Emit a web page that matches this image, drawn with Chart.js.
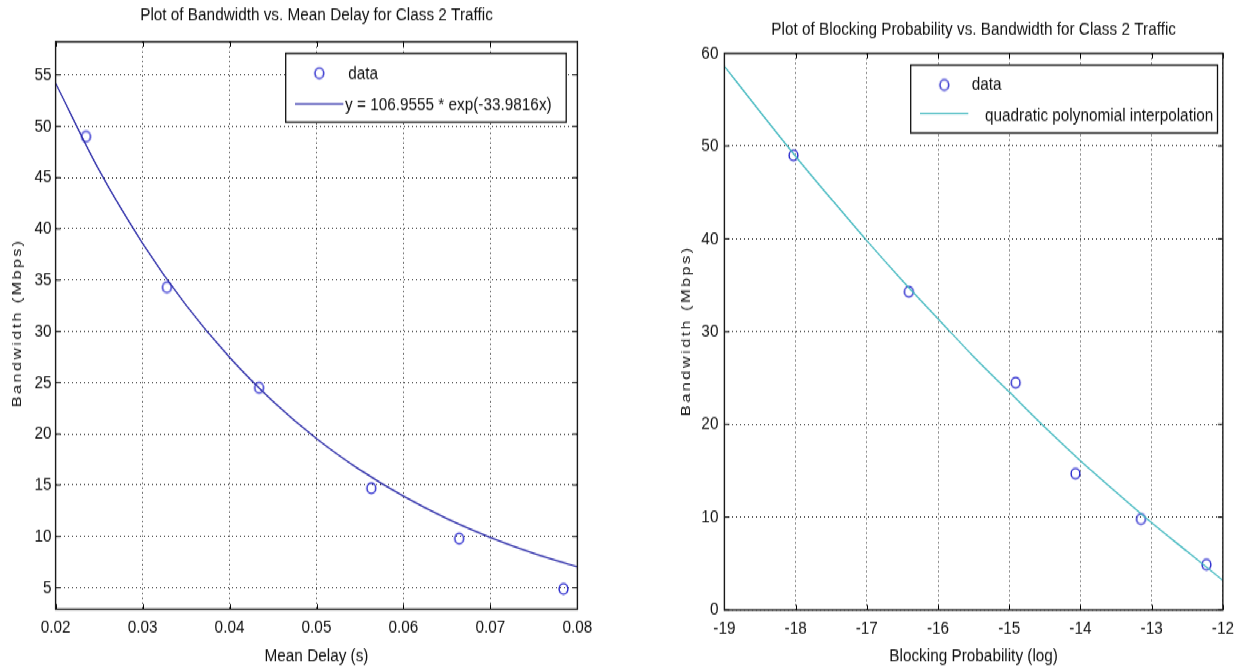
<!DOCTYPE html>
<html>
<head>
<meta charset="utf-8">
<title>Class 2 Traffic: Bandwidth plots</title>
<script src="https://cdn.jsdelivr.net/npm/chart.js@4.4.1/dist/chart.umd.min.js"></script>
<style>
  html, body { margin: 0; padding: 0; background: #fff; }
  #wrap { position: relative; width: 1240px; height: 671px; overflow: hidden; background: #fff; }
  /* the figure is laid out on a 560px-high stage and stretched to 671px */
  #stage { position: absolute; left: 0; top: 0; width: 1240px; height: 560px;
           transform: scaleY(1.198214); transform-origin: 0 0; }
  canvas { position: absolute; top: 0; }
  #delayChart { left: 0; }
  #blockChart { left: 620px; }
</style>
</head>
<body>
<div id="wrap">
  <div id="stage">
    <canvas id="delayChart" width="620" height="560"></canvas>
    <canvas id="blockChart" width="620" height="560"></canvas>
  </div>
</div>
<script>
// ---- measured samples for class 2 traffic ----
const bandwidthMbps = [49, 34.3, 24.5, 14.7, 9.8, 4.9];
const meanDelaySec = [0.0235, 0.0328, 0.0434, 0.0563, 0.0664, 0.0784];
const blockingLog = [-18.03, -16.41, -14.91, -14.07, -13.15, -12.23];

// exponential fit, sampled along the delay axis
const fitDelay = [0.020, 0.025, 0.030, 0.035, 0.040, 0.045, 0.050, 0.055, 0.060, 0.065, 0.070, 0.075, 0.080];
const fitBandwidth = [54.20, 45.73, 38.59, 32.56, 27.47, 23.18, 19.55, 16.50, 13.92, 11.74, 9.91, 8.36, 7.05];

// quadratic curve, sampled along the log blocking probability axis
const quadLog = [-19, -18.5, -18, -17.5, -17, -16.5, -16, -15.5, -15, -14.5, -14, -13.5, -13, -12.5, -12];
const quadBandwidth = [58.6, 53.7, 48.9, 44.3, 39.8, 35.5, 31.4, 27.3, 23.5, 19.7, 16.1, 12.7, 9.4, 6.3, 3.2];

// ---- tick values and labels ----
const delayTicks = [0.02, 0.03, 0.04, 0.05, 0.06, 0.07, 0.08];
const delayTickLabels = ['0.02', '0.03', '0.04', '0.05', '0.06', '0.07', '0.08'];
const bwTicksLeft = [5, 10, 15, 20, 25, 30, 35, 40, 45, 50, 55];
const blockTicks = [-19, -18, -17, -16, -15, -14, -13, -12];
const bwTicksRight = [0, 10, 20, 30, 40, 50, 60];

// vertical stretch of the stage: layout numbers below are in page pixels
const K = 671 / 560;
const H = 560;
const v = y => y / K;

// ---- fonts: a condensed sans if present, sized to the title width ----
function textWidth(font, s) {
  const g = document.createElement('canvas').getContext('2d');
  g.font = font;
  return g.measureText(s).width;
}
const probe = 'Plot of Bandwidth vs. Mean Delay for Class 2 Traffic';
const family = "'Liberation Sans', Arial, Helvetica, sans-serif";
const textSize = 100 * 353 / textWidth('100px ' + family, probe);
const lineH = textSize * 1.2;
const baseFont = { family: family, size: textSize, weight: 'normal', lineHeight: 1.2 };
const ink = '#111';

// open circle marker
function ringImage(r, color, lw) {
  const c = document.createElement('canvas');
  const w = Math.ceil(2 * r + lw + 2);
  c.width = w; c.height = w;
  const g = c.getContext('2d');
  g.strokeStyle = color; g.lineWidth = lw;
  g.beginPath(); g.arc(w / 2, w / 2, r, 0, Math.PI * 2); g.stroke();
  return c;
}
const ring = ringImage(4.4, '#2323cc', 1.4);

function pts(xs, ys) { return xs.map((x, i) => ({ x: x, y: ys[i] })); }

// box frame, inward tick marks, legend box and spaced y-axis title
const matlabAxes = {
  id: 'matlabAxes',
  afterDraw(chart, args, o) {
    const ctx = chart.ctx;
    const { left, top, right, bottom } = chart.chartArea;
    const sx = chart.scales.x, sy = chart.scales.y;
    ctx.save();
    ctx.strokeStyle = '#000';
    ctx.lineWidth = 1;
    ctx.beginPath();
    sx.ticks.forEach(t => {
      const p = Math.round(sx.getPixelForValue(t.value)) + 0.5;
      ctx.moveTo(p, bottom); ctx.lineTo(p, bottom - v(5));
      ctx.moveTo(p, top); ctx.lineTo(p, top + v(5));
    });
    sy.ticks.forEach(t => {
      const p = sy.getPixelForValue(t.value);
      ctx.moveTo(left, p); ctx.lineTo(left + 5, p);
      ctx.moveTo(right, p); ctx.lineTo(right - 5, p);
    });
    ctx.stroke();

    // legend
    const b = o.box;
    ctx.fillStyle = '#fff';
    ctx.fillRect(b.x, v(b.y), b.w, v(b.h));
    ctx.lineWidth = 1.3;
    ctx.strokeStyle = '#111';
    ctx.strokeRect(b.x, v(b.y), b.w, v(b.h));
    chart.data.datasets.forEach((ds, i) => {
      const row = o.rows[i];
      if (ds.showLine) {
        ctx.strokeStyle = ds.borderColor;
        ctx.lineWidth = ds.borderWidth;
        ctx.beginPath();
        ctx.moveTo(b.x + 9.3, v(row.y)); ctx.lineTo(b.x + 57.6, v(row.y));
        ctx.stroke();
      } else {
        const img = ds.pointStyle;
        ctx.drawImage(img, b.x + 33.6 - img.width / 2, v(row.y) - img.height / 2);
      }
      ctx.fillStyle = ink;
      ctx.font = textSize + 'px ' + family;
      ctx.textAlign = 'left';
      ctx.textBaseline = 'middle';
      ctx.fillText(ds.label, b.x + row.textX, v(row.ty));
    });

    // y-axis title
    const yt = o.yTitle;
    ctx.translate(yt.x, v(yt.y));
    ctx.rotate(-Math.PI / 2);
    ctx.font = "13.5px 'Liberation Sans', Arial, sans-serif";
    const n = yt.text.length;
    const len = v(yt.len);
    const base = ctx.measureText(yt.text).width;
    ctx.letterSpacing = Math.max(0, (len - base) / (n - 1)) + 'px';
    ctx.fillStyle = ink;
    ctx.textAlign = 'left';
    ctx.textBaseline = 'middle';
    ctx.fillText(yt.text, -len / 2, 0);
    ctx.restore();

    // axes box
    ctx.save();
    ctx.strokeStyle = '#1a1a1a';
    ctx.lineWidth = 1.4;
    ctx.strokeRect(left, top, right - left, bottom - top);
    ctx.restore();
  }
};

function axis(opts) {
  return {
    type: 'linear',
    position: opts.position,
    min: opts.min,
    max: opts.max,
    afterBuildTicks: s => { s.ticks = opts.ticks.map(t => ({ value: t })); },
    afterFit: opts.fit,
    grid: { color: 'rgba(0,0,0,0.85)', lineWidth: 1, drawTicks: false },
    border: { display: false, dash: [1, 3] },
    ticks: {
      padding: opts.pad,
      color: ink,
      font: baseFont,
      autoSkip: false,
      maxRotation: 0,
      callback: (val, i) => opts.labels[i]
    },
    title: opts.title
      ? { display: true, text: opts.title, color: ink, font: baseFont,
          padding: { top: 0, bottom: H - v(656) - lineH / 2 } }
      : { display: false }
  };
}

function titleOpts(text, centerY, areaTop) {
  const pt = v(centerY) - lineH / 2;
  return {
    display: true, text: text, color: ink, font: baseFont, fullSize: false,
    padding: { top: pt, bottom: v(areaTop) - pt - lineH }
  };
}

// ---- bandwidth vs mean delay ----
new Chart(document.getElementById('delayChart'), {
  type: 'scatter',
  data: {
    datasets: [
      { label: 'data', data: pts(meanDelaySec, bandwidthMbps), showLine: false,
        pointStyle: ring, pointRadius: 5, borderColor: '#2323cc', order: 1 },
      { label: 'y = 106.9555 * exp(-33.9816x)', data: pts(fitDelay, fitBandwidth), showLine: true,
        pointRadius: 0, borderColor: '#2b2ba8', borderWidth: 1.3, cubicInterpolationMode: 'monotone', fill: false, order: 0 }
    ]
  },
  options: {
    responsive: false, animation: false, events: [],
    layout: { padding: { left: 0, right: 620 - 577.4, top: 0, bottom: 0 } },
    scales: {
      x: axis({ position: 'bottom', min: 0.02, max: 0.08, ticks: delayTicks, labels: delayTickLabels,
        pad: v(627.6 - 609.3) - lineH / 2, title: 'Mean Delay (s)', fit: s => { s.height = v(671 - 609.3); } }),
      y: axis({ position: 'left', min: 2.9, max: 58.25, ticks: bwTicksLeft, labels: bwTicksLeft.map(String),
        pad: 4, fit: s => { s.width = 55.6; } })
    },
    plugins: {
      legend: { display: false },
      tooltip: { enabled: false },
      title: titleOpts('Plot of Bandwidth vs. Mean Delay for Class 2 Traffic', 15, 41.7),
      matlabAxes: {
        box: { x: 285.7, y: 53.3, w: 280.5, h: 69 },
        rows: [{ y: 73.3, ty: 74, textX: 62.6 }, { y: 104, ty: 105, textX: 59.3 }],
        yTitle: { text: 'Bandwidth (Mbps)', x: 17.3, y: 324, len: 166 }
      }
    }
  },
  plugins: [matlabAxes]
});

// ---- bandwidth vs blocking probability ----
new Chart(document.getElementById('blockChart'), {
  type: 'scatter',
  data: {
    datasets: [
      { label: 'data', data: pts(blockingLog, bandwidthMbps), showLine: false,
        pointStyle: ring, pointRadius: 5, borderColor: '#2323cc', order: 1 },
      { label: 'quadratic polynomial interpolation', data: pts(quadLog, quadBandwidth), showLine: true,
        pointRadius: 0, borderColor: '#45b9c0', borderWidth: 1.3, cubicInterpolationMode: 'monotone', fill: false, order: 0 }
    ]
  },
  options: {
    responsive: false, animation: false, events: [],
    layout: { padding: { left: 0, right: 620 - (1231 - 620), top: 0, bottom: 0 } },
    scales: {
      x: axis({ position: 'bottom', min: -19, max: -12, ticks: blockTicks, labels: blockTicks.map(String),
        pad: v(628.3 - 610) - lineH / 2, title: 'Blocking Probability (log)', fit: s => { s.height = v(671 - 610); } }),
      y: axis({ position: 'left', min: 0, max: 60, ticks: bwTicksRight, labels: bwTicksRight.map(String),
        pad: 6, fit: s => { s.width = 724.4 - 620; } })
    },
    plugins: {
      legend: { display: false },
      tooltip: { enabled: false },
      title: titleOpts('Plot of Blocking Probability vs. Bandwidth for Class 2 Traffic', 30, 53.3),
      matlabAxes: {
        box: { x: 290.7, y: 65, w: 306.8, h: 68 },
        rows: [{ y: 85, ty: 85, textX: 61 }, { y: 113.5, ty: 116, textX: 74.3 }],
        yTitle: { text: 'Bandwidth (Mbps)', x: 66.5, y: 332, len: 168 }
      }
    }
  },
  plugins: [matlabAxes]
});
</script>
</body>
</html>
